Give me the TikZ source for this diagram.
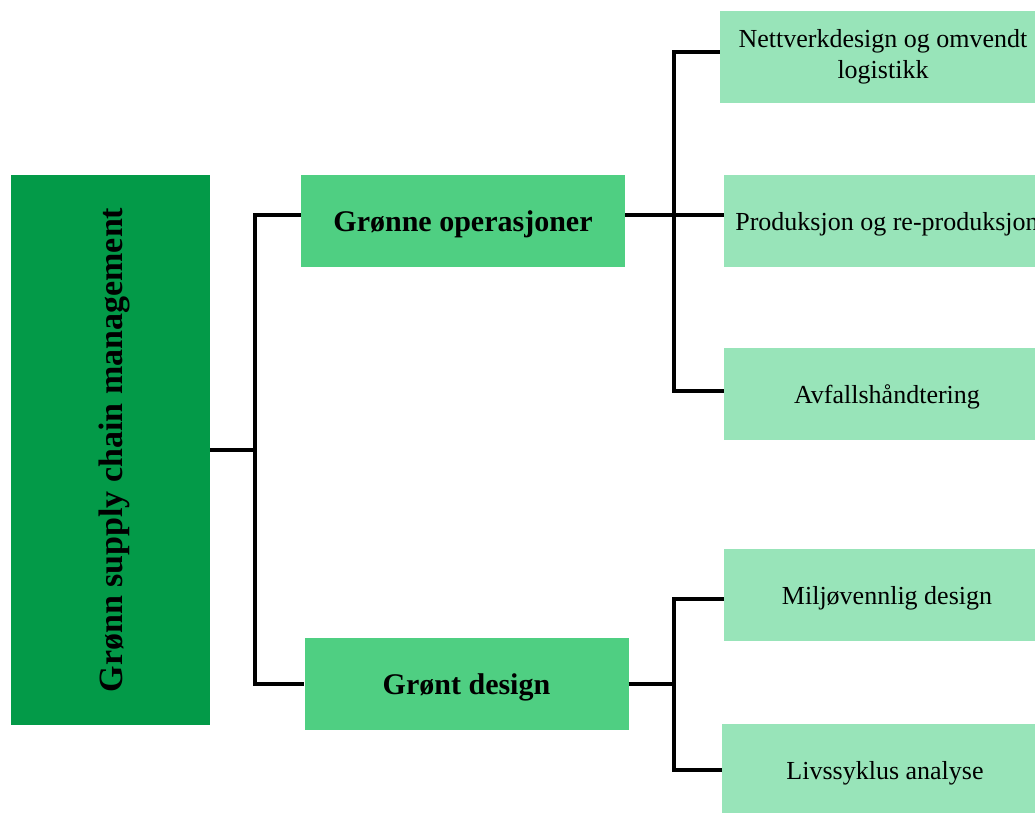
\documentclass[tikz,border=0pt]{standalone}
\usepackage{fontspec}
\setmainfont{Liberation Serif}
\definecolor{rootgreen}{HTML}{039A48}
\definecolor{midgreen}{HTML}{4FCF82}
\definecolor{leafgreen}{HTML}{98E4B9}
\begin{document}
\begin{tikzpicture}[x=1pt,y=-1pt,
  box/.style={rectangle, inner sep=0pt, align=center, text=black},
  rootbox/.style={box, fill=rootgreen, minimum width=199pt, minimum height=550pt},
  midbox/.style={box, fill=midgreen, minimum width=324pt, minimum height=92pt,
    text depth=0pt, font=\fontsize{30}{34}\selectfont\bfseries},
  leafbox/.style={box, fill=leafgreen, minimum width=326pt, minimum height=92pt,
    font=\fontsize{26}{31}\selectfont},
  onelineleaf/.style={leafbox, text depth=0pt},
  link/.style={line width=3.4pt, draw=black}]
\useasboundingbox (0,0) rectangle (1035,812);
\clip (0,0) rectangle (1035,812);

% root
\node[rootbox] (root) at (110.5,450) {};
\node[box, rotate=90, font=\fontsize{34}{40}\selectfont\bfseries] (roottext) at (114,450)
  {Grønn supply chain management};

% second level
\node[midbox] (gop) at (463,221) {Grønne operasjoner};
\node[midbox] (gd) at (466.5,684) {Grønt design};

% leaves
\node[leafbox] (l1) at (883,57) {Nettverkdesign og omvendt\\logistikk};
\node[onelineleaf] (l2) at (887,221) {Produksjon og re-produksjon};
\node[onelineleaf] (l3) at (887,394) {Avfallshåndtering};
\node[onelineleaf] (l4) at (887,595) {Miljøvennlig design};
\node[onelineleaf] (l5) at (885,770) {Livssyklus analyse};

% junctions
\coordinate (j1) at (255,450);
\coordinate (j2) at (674,215);
\coordinate (j3) at (674,684);

% connectors
\draw[link] (root.east) -- (j1);
\draw[link] ([yshift=6pt]gop.west) -| (j1) |- (gd.west);
\draw[link] ([yshift=6pt]gop.east) -- ([yshift=6pt]l2.west);
\draw[link] ([yshift=5pt]l1.west) -| (j2) |- ([yshift=3pt]l3.west);
\draw[link] (gd.east) -- (j3);
\draw[link] ([yshift=-4pt]l4.west) -| (j3) |- (l5.west);
\end{tikzpicture}
\end{document}
